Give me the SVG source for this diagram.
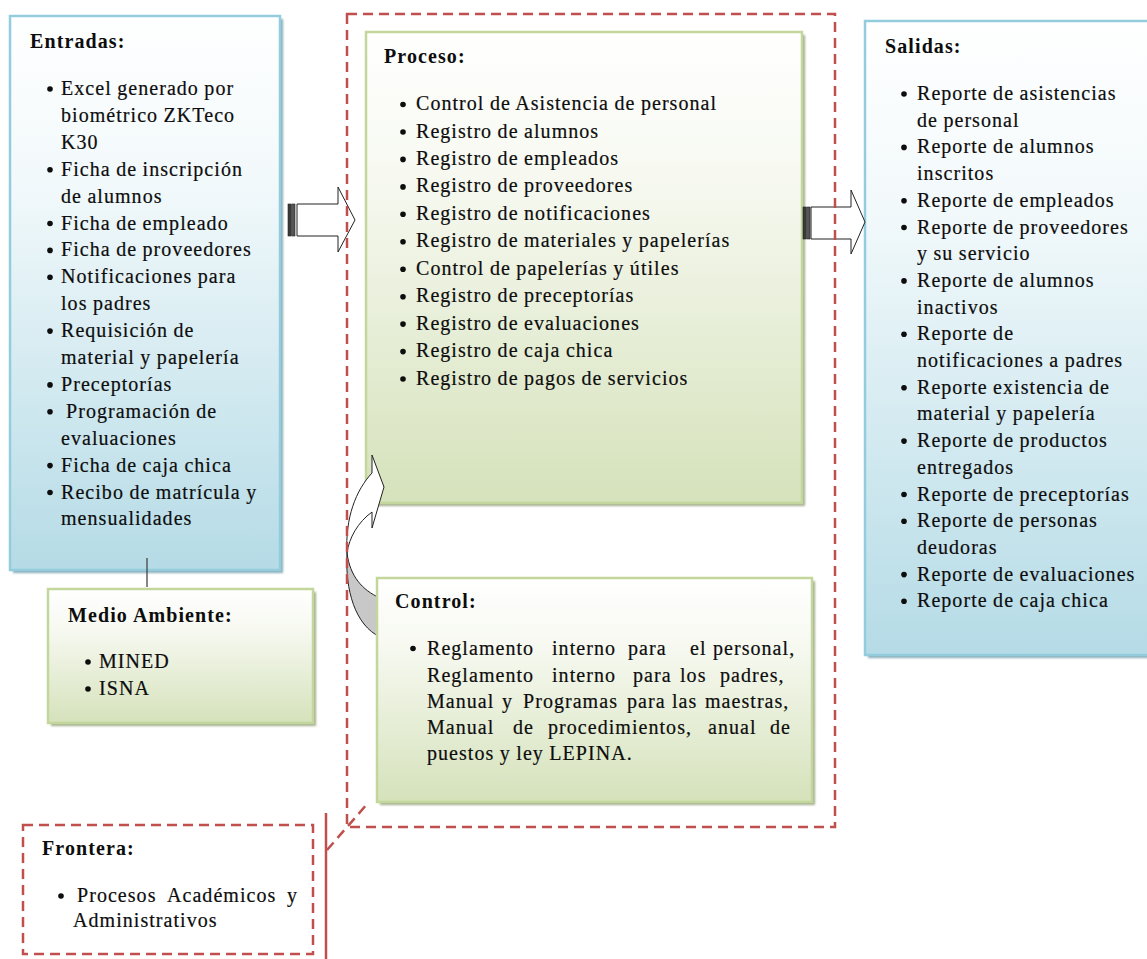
<svg xmlns="http://www.w3.org/2000/svg" width="1147" height="959" viewBox="0 0 1147 959">
  <style>
    .t { font-family: "Liberation Serif", "Times New Roman", serif; font-size: 20px; letter-spacing: 1.05px; word-spacing: -0.6px; fill: #0d0d0d; stroke: #0d0d0d; stroke-width: 0.2; }
    .h { font-family: "Liberation Serif", "Times New Roman", serif; font-size: 20px; font-weight: bold; letter-spacing: 1.1px; fill: #0d0d0d; }
    .bu { fill: #0d0d0d; }
    .bl { fill: url(#gBlue); stroke: #93cddd; stroke-width: 2.5; }
    .gr { fill: url(#gGreen); stroke: #c3d69b; stroke-width: 2.5; }
    .shB { fill: #86aab6; }
    .shG { fill: #a3ad8c; }
    .dash { fill: none; stroke: #c0504d; stroke-width: 2.5; stroke-dasharray: 10 6; }
    .arr { fill: #ffffff; stroke: #222; stroke-width: 1; stroke-linejoin: miter; }
  </style>
  <defs>
    <linearGradient id="gBlue" x1="0" y1="0" x2="0" y2="1">
      <stop offset="0" stop-color="#ffffff"/>
      <stop offset="0.3" stop-color="#f2f9fb"/>
      <stop offset="1" stop-color="#b5dbe6"/>
    </linearGradient>
    <linearGradient id="gGreen" x1="0" y1="0" x2="0" y2="1">
      <stop offset="0" stop-color="#ffffff"/>
      <stop offset="0.3" stop-color="#f7f9f1"/>
      <stop offset="1" stop-color="#d5e2bb"/>
    </linearGradient>
    <filter id="soft" x="-5%" y="-5%" width="110%" height="110%">
      <feGaussianBlur stdDeviation="0.8"/>
    </filter>
  </defs>

  <!-- Entradas -->
  <g id="entradas">
    <rect class="shB" x="13" y="19" width="270" height="554" filter="url(#soft)"/>
    <rect class="bl" x="10" y="16" width="270" height="554"/>
    <text class="h" x="30" y="48">Entradas:</text>
    <g class="bu">
      <circle cx="50" cy="89" r="2.8"/><circle cx="50" cy="169.7" r="2.8"/><circle cx="50" cy="223.5" r="2.8"/>
      <circle cx="50" cy="250.4" r="2.8"/><circle cx="50" cy="277.3" r="2.8"/><circle cx="50" cy="331.1" r="2.8"/>
      <circle cx="50" cy="384.9" r="2.8"/><circle cx="50" cy="411.8" r="2.8"/><circle cx="50" cy="465.6" r="2.8"/>
      <circle cx="50" cy="492.5" r="2.8"/>
    </g>
    <g class="t">
      <text x="61" y="95">Excel generado por</text>
      <text x="61" y="121.9">biométrico ZKTeco</text>
      <text x="61" y="148.8">K30</text>
      <text x="61" y="175.7">Ficha de inscripción</text>
      <text x="61" y="202.6">de alumnos</text>
      <text x="61" y="229.5">Ficha de empleado</text>
      <text x="61" y="256.4">Ficha de proveedores</text>
      <text x="61" y="283.3">Notificaciones para</text>
      <text x="61" y="310.2">los padres</text>
      <text x="61" y="337.1">Requisición de</text>
      <text x="61" y="364">material y papelería</text>
      <text x="61" y="390.9">Preceptorías</text>
      <text x="66" y="417.8">Programación de</text>
      <text x="61" y="444.7">evaluaciones</text>
      <text x="61" y="471.6">Ficha de caja chica</text>
      <text x="61" y="498.5">Recibo de matrícula y</text>
      <text x="61" y="525.4">mensualidades</text>
    </g>
  </g>

  <!-- Medio Ambiente -->
  <g id="medio-ambiente">
    <rect class="shG" x="51" y="592" width="265" height="134" filter="url(#soft)"/>
    <rect class="gr" x="48" y="589" width="265" height="134"/>
    <text class="h" x="68" y="622">Medio Ambiente:</text>
    <g class="bu"><circle cx="88" cy="662" r="2.8"/><circle cx="88" cy="689" r="2.8"/></g>
    <g class="t">
      <text x="99" y="668">MINED</text>
      <text x="99" y="695">ISNA</text>
    </g>
  </g>

  <!-- Proceso -->
  <g id="proceso">
    <rect class="shG" x="369" y="35" width="436" height="471" filter="url(#soft)"/>
    <rect class="gr" x="366" y="32" width="436" height="471"/>
    <text class="h" x="384" y="63">Proceso:</text>
    <g class="bu">
      <circle cx="403" cy="104.5" r="2.8"/><circle cx="403" cy="132" r="2.8"/><circle cx="403" cy="159.4" r="2.8"/>
      <circle cx="403" cy="186.9" r="2.8"/><circle cx="403" cy="214.3" r="2.8"/><circle cx="403" cy="241.8" r="2.8"/>
      <circle cx="403" cy="269.2" r="2.8"/><circle cx="403" cy="296.7" r="2.8"/><circle cx="403" cy="324.1" r="2.8"/>
      <circle cx="403" cy="351.6" r="2.8"/><circle cx="403" cy="379" r="2.8"/>
    </g>
    <g class="t">
      <text x="416" y="110">Control de Asistencia de personal</text>
      <text x="416" y="137.5">Registro de alumnos</text>
      <text x="416" y="164.9">Registro de empleados</text>
      <text x="416" y="192.4">Registro de proveedores</text>
      <text x="416" y="219.8">Registro de notificaciones</text>
      <text x="416" y="247.3">Registro de materiales  y papelerías</text>
      <text x="416" y="274.7">Control de papelerías  y útiles</text>
      <text x="416" y="302.2">Registro de preceptorías</text>
      <text x="416" y="329.6">Registro de evaluaciones</text>
      <text x="416" y="357.1">Registro de caja chica</text>
      <text x="416" y="384.5">Registro de pagos de servicios</text>
    </g>
  </g>

  <!-- Salidas -->
  <g id="salidas">
    <rect class="shB" x="868" y="24" width="300" height="634" filter="url(#soft)"/>
    <rect class="bl" x="865" y="21" width="300" height="634"/>
    <text class="h" x="885" y="53">Salidas:</text>
    <g class="bu">
      <circle cx="904" cy="94" r="2.8"/><circle cx="904" cy="147.4" r="2.8"/><circle cx="904" cy="200.8" r="2.8"/>
      <circle cx="904" cy="227.5" r="2.8"/><circle cx="904" cy="280.9" r="2.8"/><circle cx="904" cy="334.3" r="2.8"/>
      <circle cx="904" cy="387.7" r="2.8"/><circle cx="904" cy="441.1" r="2.8"/><circle cx="904" cy="494.5" r="2.8"/>
      <circle cx="904" cy="521.2" r="2.8"/><circle cx="904" cy="574.6" r="2.8"/><circle cx="904" cy="601.3" r="2.8"/>
    </g>
    <g class="t">
      <text x="917" y="100">Reporte de asistencias</text>
      <text x="917" y="126.7">de personal</text>
      <text x="917" y="153.4">Reporte de alumnos</text>
      <text x="917" y="180.1">inscritos</text>
      <text x="917" y="206.8">Reporte de empleados</text>
      <text x="917" y="233.5">Reporte de proveedores</text>
      <text x="917" y="260.2">y su servicio</text>
      <text x="917" y="286.9">Reporte de alumnos</text>
      <text x="917" y="313.6">inactivos</text>
      <text x="917" y="340.3">Reporte de</text>
      <text x="917" y="367">notificaciones a padres</text>
      <text x="917" y="393.7">Reporte existencia de</text>
      <text x="917" y="420.4">material y papelería</text>
      <text x="917" y="447.1">Reporte de productos</text>
      <text x="917" y="473.8">entregados</text>
      <text x="917" y="500.5">Reporte de preceptorías</text>
      <text x="917" y="527.2">Reporte de personas</text>
      <text x="917" y="553.9">deudoras</text>
      <text x="917" y="580.6">Reporte de evaluaciones</text>
      <text x="917" y="607.3">Reporte de caja chica</text>
    </g>
  </g>

  <!-- Connectors: block arrows, curved feedback arrow, tie line -->
  <g id="connectors">
    <line x1="147" y1="558" x2="147" y2="587" stroke="#444" stroke-width="1.3"/>
    <!-- striped arrow Entradas -> Proceso -->
    <rect x="288" y="204" width="3.5" height="32" fill="#3a3a3a" stroke="#222" stroke-width="0.6"/>
    <rect x="292.5" y="204" width="2.5" height="32" fill="#555" stroke="#222" stroke-width="0.6"/>
    <polygon class="arr" points="297,204 338,204 338,187 355,220 338,252 338,236 297,236"/>
    <!-- striped arrow Proceso -> Salidas -->
    <rect x="803" y="207" width="3.5" height="32" fill="#3a3a3a" stroke="#222" stroke-width="0.6"/>
    <rect x="807.5" y="207" width="2.5" height="32" fill="#555" stroke="#222" stroke-width="0.6"/>
    <polygon class="arr" points="811,207 851,207 851,190 865,222 851,254 851,239 811,239"/>
    <!-- curved arrow Control -> Proceso -->
    <path d="M347,553 C345,590 355,625 380,637 L380,598 C362,590 350,576 347,553 Z" fill="#c8c8c8" stroke="#222" stroke-width="1"/>
    <path class="arr" d="M347,553 C345,518 356,490 372,473 L372,455 L384,487 L372,528 L372,512 C358,522 349,538 347,553 Z"/>
  </g>

  <!-- Control -->
  <g id="control">
    <rect class="shG" x="380" y="581" width="435" height="224" filter="url(#soft)"/>
    <rect class="gr" x="377" y="578" width="435" height="224"/>
    <text class="h" x="395" y="608">Control:</text>
    <circle class="bu" cx="413" cy="648.5" r="2.8"/>
    <g class="t">
      <text y="655"><tspan x="427">Reglamento</tspan><tspan x="552">interno</tspan><tspan x="628">para</tspan><tspan x="690">el</tspan><tspan x="713">personal,</tspan></text>
      <text y="681.5"><tspan x="427">Reglamento</tspan><tspan x="552">interno</tspan><tspan x="633">para</tspan><tspan x="680">los</tspan><tspan x="720">padres,</tspan></text>
      <text y="707.5"><tspan x="427">Manual</tspan><tspan x="502">y</tspan><tspan x="523">Programas</tspan><tspan x="627">para</tspan><tspan x="672">las</tspan><tspan x="705">maestras,</tspan></text>
      <text y="733.5"><tspan x="427">Manual</tspan><tspan x="513">de</tspan><tspan x="548">procedimientos,</tspan><tspan x="708">anual</tspan><tspan x="770">de</tspan></text>
      <text x="427" y="760">puestos y ley LEPINA.</text>
    </g>
  </g>

  <!-- Frontera (boundary) -->
  <g id="frontera">
    <rect class="dash" x="347" y="14" width="488" height="813"/>
    <rect class="dash" x="23" y="825" width="290" height="129"/>
    <line x1="326" y1="813" x2="326" y2="959" stroke="#c0504d" stroke-width="2.5"/>
    <line class="dash" x1="327" y1="850" x2="368" y2="803"/>
    <text class="h" x="42" y="855">Frontera:</text>
    <circle class="bu" cx="61" cy="896" r="2.8"/>
    <g class="t">
      <text y="902"><tspan x="77">Procesos</tspan><tspan x="167">Académicos</tspan><tspan x="287">y</tspan></text>
      <text x="73" y="927">Administrativos</text>
    </g>
  </g>
</svg>
